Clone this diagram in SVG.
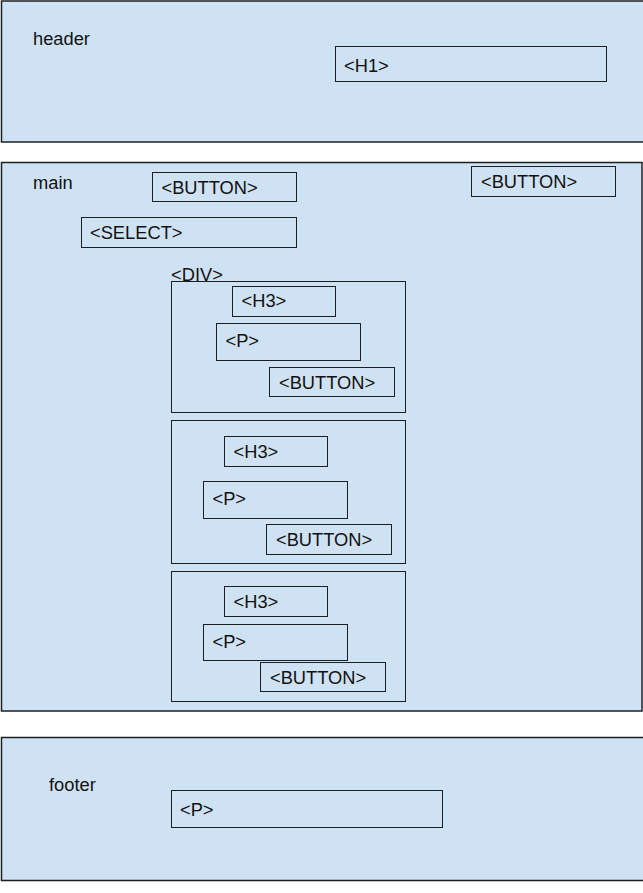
<svg xmlns="http://www.w3.org/2000/svg" width="643" height="893" viewBox="0 0 643 893">
<style>
.sec{fill:#cfe2f3;stroke:#1b1f24;stroke-width:1.5}
.box{fill:#cfe2f3;stroke:#1b1f24;stroke-width:1}
.t{font-family:"Liberation Sans",Arial,sans-serif;font-size:18.3px;fill:#111}
</style>
<rect width="643" height="893" fill="#ffffff"/>
<g id="header">
<rect class="sec" x="1.5" y="1" width="645" height="141"/>
<text class="t" x="33" y="45">header</text>
</g>
<g id="h1">
<rect class="box" x="335.5" y="46.5" width="271" height="35"/>
<text class="t" x="344" y="71.5">&lt;H1&gt;</text>
</g>
<g id="main">
<rect class="sec" x="1.5" y="162.5" width="640.5" height="548.5"/>
<text class="t" x="33" y="189">main</text>
</g>
<g id="button1">
<rect class="box" x="152.5" y="172.5" width="144" height="29"/>
<text class="t" x="161.5" y="193.5">&lt;BUTTON&gt;</text>
</g>
<g id="button2">
<rect class="box" x="471.5" y="166.5" width="144" height="30"/>
<text class="t" x="481" y="188">&lt;BUTTON&gt;</text>
</g>
<g id="select">
<rect class="box" x="81.5" y="217.5" width="215" height="30"/>
<text class="t" x="90" y="238.5">&lt;SELECT&gt;</text>
</g>
<g id="div1">
<text class="t" x="171" y="281">&lt;DIV&gt;</text>
<rect class="box" x="171.5" y="281.5" width="234" height="131"/>
</g>
<g id="h3a">
<rect class="box" x="232.5" y="286.5" width="103" height="30"/>
<text class="t" x="241.5" y="307">&lt;H3&gt;</text>
</g>
<g id="pa">
<rect class="box" x="216.5" y="323.5" width="144" height="37"/>
<text class="t" x="225.5" y="347">&lt;P&gt;</text>
</g>
<g id="buttona">
<rect class="box" x="269.5" y="367.5" width="125" height="29"/>
<text class="t" x="279" y="388.5">&lt;BUTTON&gt;</text>
</g>
<g id="div2">
<rect class="box" x="171.5" y="420.5" width="234" height="143"/>
</g>
<g id="h3b">
<rect class="box" x="224.5" y="436.5" width="103" height="30"/>
<text class="t" x="233.5" y="458">&lt;H3&gt;</text>
</g>
<g id="pb">
<rect class="box" x="203.5" y="481.5" width="144" height="37"/>
<text class="t" x="212.5" y="505">&lt;P&gt;</text>
</g>
<g id="buttonb">
<rect class="box" x="266.5" y="524.5" width="125" height="30"/>
<text class="t" x="276" y="546">&lt;BUTTON&gt;</text>
</g>
<g id="div3">
<rect class="box" x="171.5" y="571.5" width="234" height="130"/>
</g>
<g id="h3c">
<rect class="box" x="224.5" y="586.5" width="103" height="30"/>
<text class="t" x="233.5" y="608">&lt;H3&gt;</text>
</g>
<g id="pc">
<rect class="box" x="203.5" y="624.5" width="144" height="36"/>
<text class="t" x="212.5" y="648">&lt;P&gt;</text>
</g>
<g id="buttonc">
<rect class="box" x="260.5" y="662.5" width="125" height="29"/>
<text class="t" x="270" y="683.5">&lt;BUTTON&gt;</text>
</g>
<g id="footer">
<rect class="sec" x="1.5" y="737.5" width="645" height="143"/>
<text class="t" x="49" y="791">footer</text>
</g>
<g id="pfooter">
<rect class="box" x="171.5" y="790.5" width="271" height="37"/>
<text class="t" x="180" y="815.5">&lt;P&gt;</text>
</g>
<g id="connectors"></g>
</svg>
